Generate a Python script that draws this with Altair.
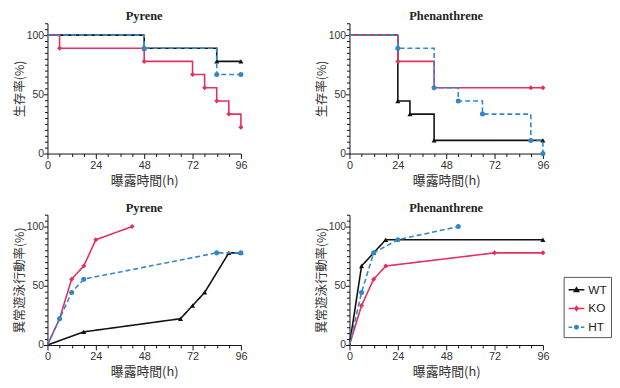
import altair as alt
import pandas as pd

groups = ["WT", "KO", "HT"]
colors = ["#111111", "#e2305f", "#3288c6"]
marker_shapes = ["triangle-up", "diamond", "circle"]
dashes = [[1, 0], [1, 0], [5, 3]]
legend_paths = [
    "M-1,0L1,0M-0.28,0.24L0,-0.26L0.28,0.24Z",
    "M-1,0L1,0M0,-0.26L0.2,0L0,0.26L-0.2,0Z",
    "M-1,0L-0.55,0M-0.3,0L-0.22,0M0.22,0L0.3,0M0.55,0L1,0M0.22,0A0.22,0.22 0 1,1 -0.22,0A0.22,0.22 0 1,1 0.22,0Z",
]

# ---- survival, pyrene ----
sp_t_WT = [0, 48, 84, 96]
sp_v_WT = [100, 88.9, 77.8, 77.8]
sp_t_KO = [0, 6, 48, 72, 78, 84, 90, 96]
sp_v_KO = [100, 88.9, 77.8, 66.7, 55.6, 44.4, 33.3, 22.2]
sp_t_HT = [0, 48, 84, 96]
sp_v_HT = [100, 88.9, 66.7, 66.7]

# ---- survival, phenanthrene ----
sh_t_WT = [0, 24, 30, 42, 96]
sh_v_WT = [100, 44.4, 33.3, 11.1, 11.1]
sh_t_KO = [0, 24, 42, 90, 96]
sh_v_KO = [100, 77.8, 55.6, 55.6, 55.6]
sh_t_HT = [0, 24, 42, 54, 66, 90, 96]
sh_v_HT = [100, 88.9, 55.6, 44.4, 33.3, 11.1, 0]

# ---- abnormal swimming, pyrene ----
ap_t_WT = [0, 18, 66, 72, 78, 90, 96]
ap_v_WT = [0, 11.1, 22.2, 33.3, 44.4, 77.8, 77.8]
ap_t_KO = [0, 6, 12, 18, 24, 42]
ap_v_KO = [0, 22.2, 55.6, 66.7, 88.9, 100]
ap_t_HT = [0, 6, 12, 18, 84, 96]
ap_v_HT = [0, 22.2, 44.4, 55.6, 77.8, 77.8]

# ---- abnormal swimming, phenanthrene ----
ah_t_WT = [0, 6, 12, 18, 96]
ah_v_WT = [0, 66.7, 77.8, 88.9, 88.9]
ah_t_KO = [0, 6, 12, 18, 72, 96]
ah_v_KO = [0, 33.3, 55.6, 66.7, 77.8, 77.8]
ah_t_HT = [0, 6, 12, 24, 54]
ah_v_HT = [0, 44.4, 77.8, 88.9, 100]

x_ticks = list(range(0, 97, 6))
y_ticks = list(range(0, 111, 5))

LABEL_FONT = "Liberation Sans"
JP_FONT = "Noto Sans CJK JP"


def x_enc():
    major = "datum.value % 24 === 0"
    return alt.X(
        "t:Q",
        scale=alt.Scale(domain=[0, 96], nice=False),
        axis=alt.Axis(
            values=x_ticks,
            labelExpr=f"{major} ? datum.label : ''",
            labelFontSize={"condition": {"test": major, "value": 11}, "value": 0},
            tickSize={"condition": {"test": major, "value": 5}, "value": 3},
            labelOverlap=False,
            labelFlush=False,
            grid=False,
            title="曝露時間(h)",
            titleFont=JP_FONT,
            titleFontSize=13,
            titleFontWeight="normal",
            titleColor="#333",
            titlePadding=4,
            labelFont=LABEL_FONT,
            labelColor="#333",
            labelPadding=1,
            domainColor="#111",
            tickColor="#111",
        ),
    )


def y_enc(title):
    major = "datum.value % 50 === 0"
    return alt.Y(
        "v:Q",
        scale=alt.Scale(domain=[0, 110], nice=False),
        axis=alt.Axis(
            values=y_ticks,
            labelExpr=f"{major} ? datum.label : ''",
            labelFontSize={"condition": {"test": major, "value": 10.5}, "value": 0},
            tickSize={"condition": {"test": major, "value": 4}, "value": 3},
            labelOverlap=False,
            labelFlush=False,
            grid=False,
            title=title,
            titleFont=JP_FONT,
            titleFontSize=12.5,
            titleFontWeight="normal",
            titleColor="#333",
            titlePadding=0,
            labelFont=LABEL_FONT,
            labelColor="#333",
            labelPadding=0,
            domainColor="#111",
            tickColor="#111",
        ),
    )


def panel(series, title, ytitle, step, height, with_legend=False):
    layers = []
    frames = []
    for g, col, shp, dash in zip(groups, colors, marker_shapes, dashes):
        t, v = series[g]
        df = pd.DataFrame({"t": t, "v": v, "g": g})
        frames.append(df)
        line_kwargs = dict(color=col, strokeWidth=1.6, strokeDash=dash)
        if step:
            line_kwargs["interpolate"] = "step-after"
        layers.append(alt.Chart(df).mark_line(**line_kwargs).encode(x=x_enc(), y=y_enc(ytitle)))
        layers.append(
            alt.Chart(df)
            .transform_filter("datum.t > 0")
            .mark_point(shape=shp, filled=True, color=col, size=26, opacity=1)
            .encode(x=x_enc(), y=y_enc(ytitle))
        )
    if with_legend:
        alldf = pd.concat(frames)
        leg = alt.Legend(
            title=None,
            orient="none",
            legendX=523,
            legendY=257,
            strokeColor="#555",
            fillColor="white",
            padding=4,
            symbolSize=256,
            symbolStrokeWidth=1.5,
            symbolOpacity=1,
            labelFont=LABEL_FONT,
            labelFontSize=12,
            labelColor="#222",
            rowPadding=4,
            labelOffset=3,
        )
        layers.append(
            alt.Chart(alldf)
            .mark_point(filled=True, opacity=0)
            .encode(
                x=x_enc(),
                y=y_enc(ytitle),
                fill=alt.Fill("g:N", scale=alt.Scale(domain=groups, range=colors), legend=leg),
                stroke=alt.Stroke("g:N", scale=alt.Scale(domain=groups, range=colors), legend=leg),
                shape=alt.Shape("g:N", scale=alt.Scale(domain=groups, range=legend_paths), legend=leg),
            )
        )
    return alt.layer(*layers).properties(
        width=196,
        height=height,
        title=alt.TitleParams(
            title, font="Liberation Serif", fontWeight="bold", fontSize=12.5, color="#222", offset=0
        ),
    )


tl = panel({"WT": (sp_t_WT, sp_v_WT), "KO": (sp_t_KO, sp_v_KO), "HT": (sp_t_HT, sp_v_HT)},
           "Pyrene", "生存率(%)", True, 132)
tr = panel({"WT": (sh_t_WT, sh_v_WT), "KO": (sh_t_KO, sh_v_KO), "HT": (sh_t_HT, sh_v_HT)},
           "Phenanthrene", "生存率(%)", True, 132)
bl = panel({"WT": (ap_t_WT, ap_v_WT), "KO": (ap_t_KO, ap_v_KO), "HT": (ap_t_HT, ap_v_HT)},
           "Pyrene", "異常遊泳行動率(%)", False, 132)
br = panel({"WT": (ah_t_WT, ah_v_WT), "KO": (ah_t_KO, ah_v_KO), "HT": (ah_t_HT, ah_v_HT)},
           "Phenanthrene", "異常遊泳行動率(%)", False, 132, with_legend=True)

chart = (
    alt.vconcat(
        alt.hconcat(tl, tr, spacing=68),
        alt.hconcat(bl, br, spacing=68),
        spacing=15,
    )
    .properties(padding={"left": 5, "top": 0, "right": 0, "bottom": 0}, background="white")
    .configure_view(stroke=None)
)

chart.save("out.html", embed_options={"renderer": "svg", "actions": False})
